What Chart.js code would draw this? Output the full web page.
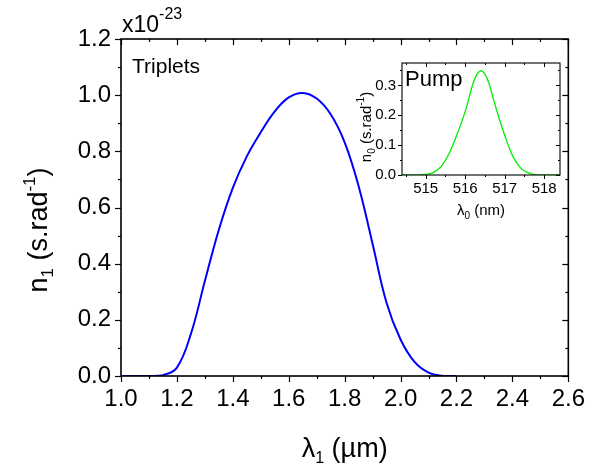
<!DOCTYPE html>
<html>
<head>
<meta charset="utf-8">
<script src="https://cdn.jsdelivr.net/npm/chart.js@4.4.1/dist/chart.umd.min.js"></script>
<style>
  html, body { margin: 0; padding: 0; background: #ffffff; }
  #wrap { position: relative; width: 594px; height: 468px; }
  #main { position: absolute; left: 0; top: 0; }
  #inset { position: absolute; left: 355px; top: 48px; }
</style>
</head>
<body>
<div id="wrap">
  <canvas id="main" width="594" height="468"></canvas>
  <canvas id="inset" width="215" height="180"></canvas>
</div>
<script>
// ---------- data ----------
const tripletWavelength = [1.00, 1.05, 1.10, 1.15, 1.20, 1.25, 1.30, 1.35, 1.40, 1.45, 1.50, 1.55, 1.60, 1.65, 1.70, 1.75, 1.80, 1.85, 1.90, 1.95, 2.00, 2.05, 2.10, 2.15, 2.20];
const tripletDensity    = [0.000, 0.000, 0.000, 0.003, 0.030, 0.150, 0.338, 0.521, 0.670, 0.782, 0.868, 0.942, 0.992, 1.008, 0.988, 0.932, 0.832, 0.676, 0.470, 0.260, 0.130, 0.050, 0.012, 0.001, 0.000];

const pumpWavelength = [514.4, 514.6, 514.8, 515.0, 515.2, 515.4, 515.6, 515.8, 516.0, 516.2, 516.3, 516.4, 516.5, 516.6, 516.8, 517.0, 517.2, 517.4, 517.6, 517.8, 518.0, 518.2, 518.4];
const pumpDensity    = [0.000, 0.000, 0.000, 0.002, 0.009, 0.030, 0.074, 0.138, 0.213, 0.307, 0.338, 0.349, 0.338, 0.307, 0.215, 0.133, 0.064, 0.024, 0.007, 0.001, 0.000, 0.000, 0.000];

const mainXTicks = [1.0, 1.2, 1.4, 1.6, 1.8, 2.0, 2.2, 2.4, 2.6];
const mainXMinor = [1.1, 1.3, 1.5, 1.7, 1.9, 2.1, 2.3, 2.5];
const mainYTicks = [0.0, 0.2, 0.4, 0.6, 0.8, 1.0, 1.2];
const mainYMinor = [0.1, 0.3, 0.5, 0.7, 0.9, 1.1];

const insetXTicks = [515, 516, 517, 518];
const insetXMinor = [514.5, 515.5, 516.5, 517.5];
const insetYTicks = [0.0, 0.1, 0.2, 0.3];
const insetYMinor = [0.05, 0.15, 0.25, 0.35];

const FONT = '"Liberation Sans", Arial, sans-serif';

// ---------- helpers ----------
function richWidth(ctx, segs) {
  let w = 0;
  for (const s of segs) { ctx.font = s.size + 'px ' + FONT; w += ctx.measureText(s.t).width; }
  return w;
}
function drawRich(ctx, segs, x, y, align, rot) {
  ctx.save();
  ctx.translate(x, y);
  if (rot) ctx.rotate(rot);
  const w = richWidth(ctx, segs);
  let cx = align === 'center' ? -w / 2 : 0;
  ctx.fillStyle = '#000';
  ctx.textBaseline = 'alphabetic';
  ctx.textAlign = 'left';
  for (const s of segs) {
    ctx.font = s.size + 'px ' + FONT;
    ctx.fillText(s.t, cx, s.dy || 0);
    cx += ctx.measureText(s.t).width;
  }
  ctx.restore();
}
function tickX(ctx, scale, vals, yBase, len) {
  for (const v of vals) {
    const p = Math.round(scale.getPixelForValue(v)) + 0.5;
    ctx.beginPath(); ctx.moveTo(p, yBase); ctx.lineTo(p, yBase + len); ctx.stroke();
  }
}
function tickY(ctx, scale, vals, xBase, len) {
  for (const v of vals) {
    const p = Math.round(scale.getPixelForValue(v)) + 0.5;
    ctx.beginPath(); ctx.moveTo(xBase, p); ctx.lineTo(xBase + len, p); ctx.stroke();
  }
}

// ---------- main chart ----------
const mainFrame = {
  id: 'mainFrame',
  afterDraw(chart) {
    const ctx = chart.ctx, a = chart.chartArea;
    const xs = chart.scales.x, ys = chart.scales.y;
    ctx.save();
    ctx.strokeStyle = '#000';
    ctx.lineWidth = 1.6;
    ctx.strokeRect(a.left, a.top, a.right - a.left, a.bottom - a.top);
    ctx.lineWidth = 1.2;
    tickX(ctx, xs, mainXTicks, a.bottom, 6);
    tickX(ctx, xs, mainXMinor, a.bottom, 3);
    tickX(ctx, xs, mainXTicks, a.top, 6);
    tickX(ctx, xs, mainXMinor, a.top, 3);
    tickY(ctx, ys, mainYTicks, a.left, -6);
    tickY(ctx, ys, mainYMinor, a.left, -3);
    tickY(ctx, ys, mainYTicks, a.right, -6);
    tickY(ctx, ys, mainYMinor, a.right, -3);
    ctx.restore();

    // axis titles and annotations
    drawRich(ctx, [
      { t: 'λ', size: 27 },
      { t: '1', size: 16, dy: 6 },
      { t: ' (µm)', size: 27 }
    ], (a.left + a.right) / 2, 457, 'center');
    drawRich(ctx, [
      { t: 'n', size: 27 },
      { t: '1', size: 17, dy: 6 },
      { t: ' (s.rad', size: 27 },
      { t: '-1', size: 17, dy: -12 },
      { t: ')', size: 27 }
    ], 47, 230, 'center', -Math.PI / 2);
    drawRich(ctx, [
      { t: 'x10', size: 23 },
      { t: '-23', size: 16, dy: -13 }
    ], 122, 32, 'left');
    drawRich(ctx, [{ t: 'Triplets', size: 21 }], 132, 73, 'left');
  }
};

new Chart(document.getElementById('main'), {
  type: 'line',
  data: {
    datasets: [{
      data: tripletWavelength.map((x, i) => ({ x: x, y: tripletDensity[i] })),
      borderColor: '#0000ff',
      borderWidth: 2,
      pointRadius: 0,
      fill: false,
      tension: 0.4
    }]
  },
  options: {
    responsive: false,
    devicePixelRatio: 1,
    animation: false,
    events: [],
    layout: { padding: { left: 0, right: 19, top: 39, bottom: 0 } },
    plugins: { legend: { display: false }, tooltip: { enabled: false } },
    scales: {
      x: {
        type: 'linear', min: 1.0, max: 2.6,
        grid: { display: false, drawTicks: false },
        border: { display: false },
        afterBuildTicks: s => { s.ticks = mainXTicks.map(v => ({ value: v })); },
        afterFit: s => { s.height = 92; },
        ticks: {
          padding: 9,
          color: '#000',
          font: { family: FONT, size: 24 },
          callback: v => Number(v).toFixed(1)
        }
      },
      y: {
        type: 'linear', min: 0, max: 1.2,
        grid: { display: false, drawTicks: false },
        border: { display: false },
        afterBuildTicks: s => { s.ticks = mainYTicks.map(v => ({ value: v })); },
        afterFit: s => { s.width = 121; },
        ticks: {
          padding: 10,
          color: '#000',
          font: { family: FONT, size: 24 },
          callback: v => Number(v).toFixed(1)
        }
      }
    }
  },
  plugins: [mainFrame]
});

// ---------- inset chart ----------
const INSET_LEFT = 355, INSET_TOP = 48;
const insetFrame = {
  id: 'insetFrame',
  afterDraw(chart) {
    const ctx = chart.ctx, a = chart.chartArea;
    const xs = chart.scales.x, ys = chart.scales.y;
    ctx.save();
    ctx.strokeStyle = '#000';
    ctx.lineWidth = 1.1;
    ctx.strokeRect(a.left, a.top, a.right - a.left, a.bottom - a.top);
    ctx.lineWidth = 1;
    tickX(ctx, xs, insetXTicks, a.bottom, 4);
    tickX(ctx, xs, insetXMinor, a.bottom, 2);
    tickX(ctx, xs, insetXTicks, a.top, 4);
    tickX(ctx, xs, insetXMinor, a.top, 2);
    tickY(ctx, ys, insetYTicks, a.left, -4);
    tickY(ctx, ys, insetYMinor, a.left, -2);
    tickY(ctx, ys, insetYTicks, a.right, -4);
    tickY(ctx, ys, insetYMinor, a.right, -2);
    ctx.restore();

    drawRich(ctx, [
      { t: 'λ', size: 15 },
      { t: '0', size: 10, dy: 4 },
      { t: ' (nm)', size: 15 }
    ], (a.left + a.right) / 2, 215 - INSET_TOP, 'center');
    drawRich(ctx, [
      { t: 'n', size: 15 },
      { t: '0', size: 10, dy: 4 },
      { t: ' (s.rad', size: 15 },
      { t: '-1', size: 10, dy: -7 },
      { t: ')', size: 15 }
    ], 371 - INSET_LEFT, 127 - INSET_TOP, 'center', -Math.PI / 2);
    drawRich(ctx, [{ t: 'Pump', size: 22 }], 405 - INSET_LEFT, 86 - INSET_TOP, 'left');
  }
};

new Chart(document.getElementById('inset'), {
  type: 'line',
  data: {
    datasets: [{
      data: pumpWavelength.map((x, i) => ({ x: x, y: pumpDensity[i] })),
      borderColor: '#00ee00',
      borderWidth: 1.3,
      pointRadius: 0,
      fill: false,
      tension: 0.4
    }]
  },
  options: {
    responsive: false,
    devicePixelRatio: 1,
    animation: false,
    events: [],
    layout: { padding: { left: 0, right: 10, top: 11, bottom: 0 } },
    plugins: { legend: { display: false }, tooltip: { enabled: false } },
    scales: {
      x: {
        type: 'linear', min: 514.4, max: 518.4,
        grid: { display: false, drawTicks: false },
        border: { display: false },
        afterBuildTicks: s => { s.ticks = insetXTicks.map(v => ({ value: v })); },
        afterFit: s => { s.height = 53; },
        ticks: {
          padding: 5,
          color: '#000',
          font: { family: FONT, size: 15 },
          callback: v => String(v)
        }
      },
      y: {
        type: 'linear', min: 0, max: 0.375,
        grid: { display: false, drawTicks: false },
        border: { display: false },
        afterBuildTicks: s => { s.ticks = insetYTicks.map(v => ({ value: v })); },
        afterFit: s => { s.width = 47; },
        ticks: {
          padding: 6,
          color: '#000',
          font: { family: FONT, size: 15 },
          callback: v => Number(v).toFixed(1)
        }
      }
    }
  },
  plugins: [insetFrame]
});
</script>
</body>
</html>
